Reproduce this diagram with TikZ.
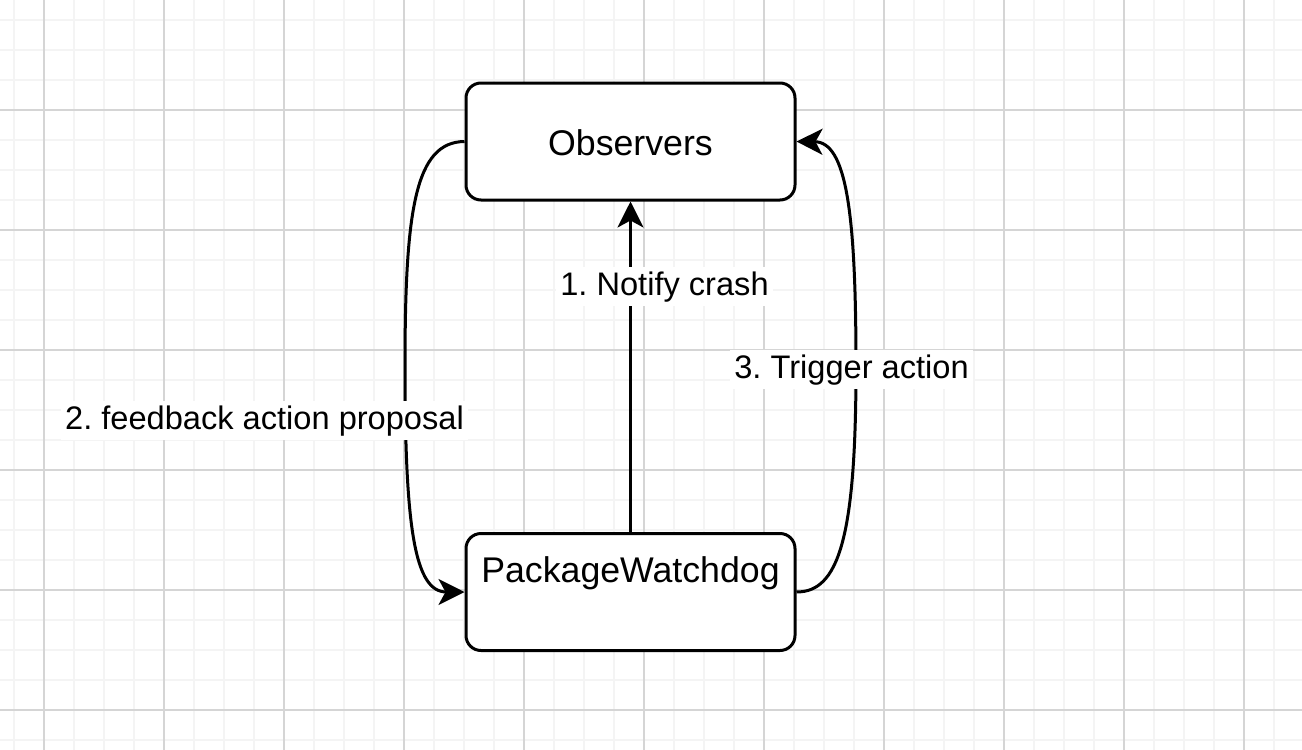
\documentclass[tikz,border=0pt]{standalone}
\usepackage{fontspec}
\setmainfont{Liberation Sans}
\usetikzlibrary{arrows.meta}
\definecolor{minorgrid}{HTML}{F4F4F4}
\definecolor{majorgrid}{HTML}{D5D5D5}
\tikzset{
  boxnode/.style={draw=black, line width=3pt, rounded corners=15pt, minimum width=329pt, minimum height=117pt, fill=white},
  boxtext/.style={font=\fontsize{35.7}{40}\selectfont, inner sep=0pt, anchor=base},
  lbl/.style={font=\fontsize{32.6}{38}\selectfont\frenchspacing, fill=white, inner sep=4pt, anchor=base},
  conn/.style={line width=3pt, -{Stealth[length=26pt,width=26pt,inset=7pt]}},
}
\begin{document}
\frenchspacing
\begin{tikzpicture}[x=1pt,y=-1pt]
\useasboundingbox (0,0) rectangle (1302,750);
\fill[white] (0,0) rectangle (1302,750);
\begin{scope}
\clip (0,0) rectangle (1302,750);
\foreach \gx in {14,44,...,1300} \draw[minorgrid, line width=2pt] (\gx,0) -- (\gx,750);
\foreach \gy in {20,50,...,750} \draw[minorgrid, line width=2pt] (0,\gy) -- (1302,\gy);
\foreach \gx in {44,164,...,1300} \draw[majorgrid, line width=1.5pt] (\gx,0) -- (\gx,750);
\foreach \gy in {110,230,...,750} \draw[majorgrid, line width=1.5pt] (0,\gy) -- (1302,\gy);
\end{scope}

\node[boxnode] (obs) at (630.5,141.5) {};
\node[boxnode] (pw) at (630.5,592) {};
\node[boxtext] (obst) at (630.5,155) {Observers};
\node[boxtext] (pwt) at (630.5,582) {PackageWatchdog};

\coordinate (lmid) at (405,367);
\coordinate (rmid) at (856,367);

\draw[conn] (pw.north) -- (obs.south);
\draw[conn] (obs.west) .. controls (415,142) and (405,210) .. (lmid)
  .. controls (405,530) and (415,592) .. (pw.west);
\draw[conn] (pw.east) .. controls (838,592) and (856,540) .. (rmid)
  .. controls (856,210) and (846,142) .. (obs.east);

\node[lbl] (l1) at (664.5,295) {1. Notify crash};
\node[lbl] (l2) at (264.5,429) {2. feedback action proposal};
\node[lbl] (l3) at (851.5,378) {3. Trigger action};
\end{tikzpicture}
\end{document}
